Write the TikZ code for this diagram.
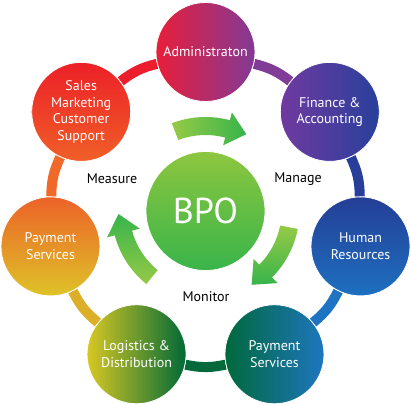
\documentclass[tikz,border=0pt]{standalone}
\usepackage{fontspec}
\setmainfont{PT Sans}
\usetikzlibrary{backgrounds,calc}
\definecolor{adminL}{RGB}{232,30,58}
\definecolor{adminR}{RGB}{130,58,150}
\definecolor{finL}{RGB}{112,58,160}
\definecolor{finR}{RGB}{40,64,155}
\definecolor{hrT}{RGB}{36,62,150}
\definecolor{hrB}{RGB}{30,112,192}
\definecolor{psrL}{RGB}{0,105,60}
\definecolor{psrR}{RGB}{30,118,190}
\definecolor{logL}{RGB}{215,200,35}
\definecolor{logR}{RGB}{0,105,55}
\definecolor{pslT}{RGB}{236,98,40}
\definecolor{pslB}{RGB}{222,195,40}
\definecolor{salesT}{RGB}{236,32,40}
\definecolor{salesB}{RGB}{240,95,40}
\definecolor{rAF}{RGB}{128,60,150}
\definecolor{rFH}{RGB}{40,62,155}
\definecolor{rHP}{RGB}{30,115,195}
\definecolor{rPL}{RGB}{5,105,60}
\definecolor{rLP}{RGB}{220,175,40}
\definecolor{rPS}{RGB}{240,105,40}
\definecolor{rSA}{RGB}{236,30,45}
\definecolor{arrL}{RGB}{150,202,70}
\definecolor{arrD}{RGB}{55,180,75}
\definecolor{bpoT}{RGB}{141,198,63}
\definecolor{bpoB}{RGB}{57,181,74}
\begin{document}
\begin{tikzpicture}[x=1pt,y=1pt,
  hub/.style={circle, minimum size=99pt, inner sep=0pt, draw=white, line width=0.8pt,
    text=white, align=center, font=\fontsize{14}{16.7}\selectfont},
  ring/.style={line width=10pt},
  lab/.style={font=\fontsize{14}{16}\selectfont, text=black}]
\useasboundingbox (0,0) rectangle (411,403);
\coordinate (C) at (205.5,192);
% outer circles
\node[hub, left color=adminL, right color=adminR] (adm) at ($(C)+(90:159)$) {Administraton};
\node[hub, left color=finL, right color=finR] (fin) at ($(C)+(38.57:159)$) {Finance \&\\Accounting};
\node[hub, top color=hrT, bottom color=hrB] (hr) at ($(C)+(-12.86:159)$) {Human\\Resources};
\node[hub, left color=psrL, right color=psrR] (psr) at ($(C)+(-64.29:159)$) {Payment\\Services};
\node[hub, left color=logL, right color=logR] (log) at ($(C)+(-115.71:159)$) {Logistics \&\\Distribution};
\node[hub, top color=pslT, bottom color=pslB] (psl) at ($(C)+(-167.14:159)$) {Payment\\Services};
\node[hub, top color=salesT, bottom color=salesB] (sal) at ($(C)+(141.43:159)$) {Sales\\Marketing\\Customer\\Support};
% ring
\begin{pgfonlayer}{background}
\draw[ring, rAF] (adm) to[bend left=12] (fin);
\draw[ring, rFH] (fin) to[bend left=12] (hr);
\draw[ring, rHP] (hr) to[bend left=12] (psr);
\draw[ring, rPL] (psr) to[bend left=12] (log);
\draw[ring, rLP] (log) to[bend left=12] (psl);
\draw[ring, rPS] (psl) to[bend left=12] (sal);
\draw[ring, rSA] (sal) to[bend left=12] (adm);
\end{pgfonlayer}
% centre
\node[circle, minimum size=119pt, inner sep=0pt, draw=white, line width=0.8pt,
  top color=bpoT, bottom color=bpoB, text=white, font=\fontsize{36}{40}\selectfont] (bpo) at (C) {BPO};
% curved arrows
\begin{scope}[shift={(C)}]
\shade[left color=arrL, right color=arrD]
  (111:94) arc[start angle=111, end angle=75, radius=94pt] -- (75:102) -- (62:87) -- (75:68) -- (75:76)
  arc[start angle=75, end angle=111, radius=76pt] -- cycle;
\shade[top color=arrL, bottom color=arrD]
  (-11:94) arc[start angle=-11, end angle=-45, radius=94pt] -- (-45:102) -- (-58:87) -- (-45:68) -- (-45:76)
  arc[start angle=-45, end angle=-11, radius=76pt] -- cycle;
\shade[bottom color=arrL, top color=arrD]
  (231:94) arc[start angle=231, end angle=195, radius=94pt] -- (195:102) -- (182:87) -- (195:68) -- (195:76)
  arc[start angle=195, end angle=231, radius=76pt] -- cycle;
\end{scope}
% labels
\node[lab] (mea) at (112,224) {Measure};
\node[lab] (man) at (298,224) {Manage};
\node[lab] (mon) at (206,106) {Monitor};
\end{tikzpicture}
\end{document}
